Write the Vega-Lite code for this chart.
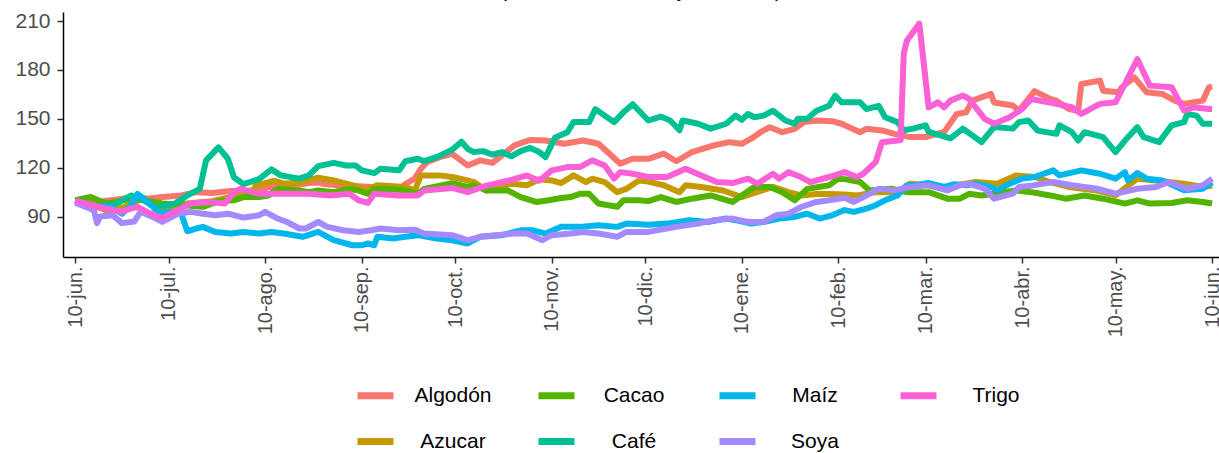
{
  "$schema": "https://vega.github.io/schema/vega-lite/v6.json",
  "autosize": {"type": "none"},
  "padding": {"left": 63, "top": 12, "right": 0, "bottom": 196},
  "width": 1156,
  "height": 245,
  "background": "#ffffff",
  "title": {"text": "(Base 100 = 10 de junio 2021)", "fontSize": 21, "font": "Liberation Sans", "fontWeight": "normal", "color": "#000000", "offset": 9, "anchor": "middle", "frame": "group"},
  "data": {"values": [
{"s":"Algodón","d":"2021-06-10","v":100},{"s":"Algodón","d":"2021-06-17","v":99},{"s":"Algodón","d":"2021-06-28","v":101.6},{"s":"Algodón","d":"2021-07-03","v":101},{"s":"Algodón","d":"2021-07-08","v":102},{"s":"Algodón","d":"2021-07-14","v":103},{"s":"Algodón","d":"2021-07-19","v":105},{"s":"Algodón","d":"2021-07-24","v":104.5},{"s":"Algodón","d":"2021-07-30","v":105.7},{"s":"Algodón","d":"2021-08-08","v":106},{"s":"Algodón","d":"2021-08-11","v":108},{"s":"Algodón","d":"2021-08-19","v":109},{"s":"Algodón","d":"2021-08-24","v":110.6},{"s":"Algodón","d":"2021-08-27","v":111},{"s":"Algodón","d":"2021-08-29","v":110},{"s":"Algodón","d":"2021-09-04","v":109},{"s":"Algodón","d":"2021-09-09","v":108.6},{"s":"Algodón","d":"2021-09-14","v":108},{"s":"Algodón","d":"2021-09-19","v":107},{"s":"Algodón","d":"2021-09-22","v":106.5},{"s":"Algodón","d":"2021-09-24","v":110},{"s":"Algodón","d":"2021-09-27","v":113.3},{"s":"Algodón","d":"2021-09-29","v":119.4},{"s":"Algodón","d":"2021-10-01","v":123.5},{"s":"Algodón","d":"2021-10-05","v":126.5},{"s":"Algodón","d":"2021-10-09","v":128.5},{"s":"Algodón","d":"2021-10-14","v":121.4},{"s":"Algodón","d":"2021-10-18","v":124.5},{"s":"Algodón","d":"2021-10-22","v":123},{"s":"Algodón","d":"2021-10-29","v":133.7},{"s":"Algodón","d":"2021-11-03","v":137},{"s":"Algodón","d":"2021-11-08","v":136.7},{"s":"Algodón","d":"2021-11-14","v":134.7},{"s":"Algodón","d":"2021-11-20","v":136.7},{"s":"Algodón","d":"2021-11-25","v":134.7},{"s":"Algodón","d":"2021-12-02","v":122.5},{"s":"Algodón","d":"2021-12-06","v":125.5},{"s":"Algodón","d":"2021-12-11","v":125.5},{"s":"Algodón","d":"2021-12-16","v":128.6},{"s":"Algodón","d":"2021-12-20","v":124},{"s":"Algodón","d":"2021-12-25","v":129.6},{"s":"Algodón","d":"2022-01-01","v":133.7},{"s":"Algodón","d":"2022-01-06","v":135.7},{"s":"Algodón","d":"2022-01-10","v":134.7},{"s":"Algodón","d":"2022-01-13","v":137.8},{"s":"Algodón","d":"2022-01-16","v":141.8},{"s":"Algodón","d":"2022-01-19","v":144.9},{"s":"Algodón","d":"2022-01-23","v":141.8},{"s":"Algodón","d":"2022-01-27","v":143.9},{"s":"Algodón","d":"2022-01-30","v":148},{"s":"Algodón","d":"2022-02-03","v":149},{"s":"Algodón","d":"2022-02-08","v":148.6},{"s":"Algodón","d":"2022-02-11","v":147},{"s":"Algodón","d":"2022-02-17","v":141.8},{"s":"Algodón","d":"2022-02-19","v":143.9},{"s":"Algodón","d":"2022-02-24","v":142.9},{"s":"Algodón","d":"2022-02-28","v":140.8},{"s":"Algodón","d":"2022-03-05","v":138.8},{"s":"Algodón","d":"2022-03-10","v":138.8},{"s":"Algodón","d":"2022-03-16","v":142},{"s":"Algodón","d":"2022-03-20","v":153},{"s":"Algodón","d":"2022-03-23","v":154},{"s":"Algodón","d":"2022-03-25","v":161.2},{"s":"Algodón","d":"2022-03-28","v":163.3},{"s":"Algodón","d":"2022-03-31","v":165.3},{"s":"Algodón","d":"2022-04-01","v":160},{"s":"Algodón","d":"2022-04-07","v":158.2},{"s":"Algodón","d":"2022-04-09","v":155},{"s":"Algodón","d":"2022-04-14","v":167},{"s":"Algodón","d":"2022-04-19","v":162.3},{"s":"Algodón","d":"2022-04-21","v":161.2},{"s":"Algodón","d":"2022-04-25","v":156},{"s":"Algodón","d":"2022-04-28","v":155},{"s":"Algodón","d":"2022-04-29","v":171.4},{"s":"Algodón","d":"2022-05-05","v":173.5},{"s":"Algodón","d":"2022-05-06","v":167.3},{"s":"Algodón","d":"2022-05-11","v":166.3},{"s":"Algodón","d":"2022-05-12","v":169.4},{"s":"Algodón","d":"2022-05-16","v":175.5},{"s":"Algodón","d":"2022-05-20","v":166.3},{"s":"Algodón","d":"2022-05-25","v":165.3},{"s":"Algodón","d":"2022-05-29","v":161.2},{"s":"Algodón","d":"2022-06-01","v":159.2},{"s":"Algodón","d":"2022-06-07","v":161.2},{"s":"Algodón","d":"2022-06-09","v":169.4},{"s":"Algodón","d":"2022-06-10","v":170},
{"s":"Azucar","d":"2021-06-10","v":100},{"s":"Azucar","d":"2021-06-13","v":100.5},{"s":"Azucar","d":"2021-06-17","v":96},{"s":"Azucar","d":"2021-06-21","v":93},{"s":"Azucar","d":"2021-06-26","v":96},{"s":"Azucar","d":"2021-07-02","v":101.5},{"s":"Azucar","d":"2021-07-07","v":95},{"s":"Azucar","d":"2021-07-16","v":98},{"s":"Azucar","d":"2021-07-24","v":99.5},{"s":"Azucar","d":"2021-07-30","v":102},{"s":"Azucar","d":"2021-08-05","v":103},{"s":"Azucar","d":"2021-08-07","v":109},{"s":"Azucar","d":"2021-08-13","v":112},{"s":"Azucar","d":"2021-08-16","v":110.2},{"s":"Azucar","d":"2021-08-21","v":111},{"s":"Azucar","d":"2021-08-27","v":113.9},{"s":"Azucar","d":"2021-09-01","v":112.2},{"s":"Azucar","d":"2021-09-09","v":108.2},{"s":"Azucar","d":"2021-09-11","v":106},{"s":"Azucar","d":"2021-09-15","v":109.2},{"s":"Azucar","d":"2021-09-24","v":108.2},{"s":"Azucar","d":"2021-09-27","v":106},{"s":"Azucar","d":"2021-09-29","v":115.3},{"s":"Azucar","d":"2021-10-05","v":115.3},{"s":"Azucar","d":"2021-10-09","v":114.3},{"s":"Azucar","d":"2021-10-14","v":112.2},{"s":"Azucar","d":"2021-10-16","v":111.2},{"s":"Azucar","d":"2021-10-20","v":106},{"s":"Azucar","d":"2021-10-28","v":110.2},{"s":"Azucar","d":"2021-11-02","v":109.2},{"s":"Azucar","d":"2021-11-06","v":112.9},{"s":"Azucar","d":"2021-11-10","v":112.2},{"s":"Azucar","d":"2021-11-13","v":110.6},{"s":"Azucar","d":"2021-11-17","v":115.3},{"s":"Azucar","d":"2021-11-21","v":111.2},{"s":"Azucar","d":"2021-11-23","v":113.3},{"s":"Azucar","d":"2021-11-27","v":111.2},{"s":"Azucar","d":"2021-12-01","v":105},{"s":"Azucar","d":"2021-12-04","v":107.1},{"s":"Azucar","d":"2021-12-08","v":112.2},{"s":"Azucar","d":"2021-12-11","v":111.5},{"s":"Azucar","d":"2021-12-16","v":109.2},{"s":"Azucar","d":"2021-12-21","v":105},{"s":"Azucar","d":"2021-12-23","v":109.2},{"s":"Azucar","d":"2021-12-28","v":108.2},{"s":"Azucar","d":"2022-01-04","v":106},{"s":"Azucar","d":"2022-01-10","v":102},{"s":"Azucar","d":"2022-01-13","v":104},{"s":"Azucar","d":"2022-01-20","v":108.2},{"s":"Azucar","d":"2022-01-25","v":105},{"s":"Azucar","d":"2022-01-29","v":103},{"s":"Azucar","d":"2022-02-04","v":104},{"s":"Azucar","d":"2022-02-12","v":103.5},{"s":"Azucar","d":"2022-02-16","v":103},{"s":"Azucar","d":"2022-02-22","v":105},{"s":"Azucar","d":"2022-03-01","v":105},{"s":"Azucar","d":"2022-03-05","v":110.2},{"s":"Azucar","d":"2022-03-11","v":109.2},{"s":"Azucar","d":"2022-03-16","v":107},{"s":"Azucar","d":"2022-03-20","v":109.2},{"s":"Azucar","d":"2022-03-26","v":111.2},{"s":"Azucar","d":"2022-04-02","v":110.2},{"s":"Azucar","d":"2022-04-08","v":115.3},{"s":"Azucar","d":"2022-04-14","v":114.3},{"s":"Azucar","d":"2022-04-19","v":111.2},{"s":"Azucar","d":"2022-04-25","v":108.2},{"s":"Azucar","d":"2022-05-04","v":106},{"s":"Azucar","d":"2022-05-10","v":103},{"s":"Azucar","d":"2022-05-17","v":113.3},{"s":"Azucar","d":"2022-05-23","v":112.2},{"s":"Azucar","d":"2022-06-01","v":110.2},{"s":"Azucar","d":"2022-06-07","v":108.2},{"s":"Azucar","d":"2022-06-10","v":109},
{"s":"Cacao","d":"2021-06-10","v":100},{"s":"Cacao","d":"2021-06-15","v":102},{"s":"Cacao","d":"2021-06-20","v":98},{"s":"Cacao","d":"2021-06-28","v":101},{"s":"Cacao","d":"2021-07-02","v":100},{"s":"Cacao","d":"2021-07-08","v":98},{"s":"Cacao","d":"2021-07-15","v":97},{"s":"Cacao","d":"2021-07-21","v":96},{"s":"Cacao","d":"2021-07-26","v":99.5},{"s":"Cacao","d":"2021-07-31","v":100},{"s":"Cacao","d":"2021-08-03","v":102},{"s":"Cacao","d":"2021-08-08","v":102},{"s":"Cacao","d":"2021-08-11","v":103},{"s":"Cacao","d":"2021-08-14","v":107},{"s":"Cacao","d":"2021-08-21","v":106},{"s":"Cacao","d":"2021-08-24","v":105},{"s":"Cacao","d":"2021-08-27","v":106},{"s":"Cacao","d":"2021-09-01","v":105},{"s":"Cacao","d":"2021-09-06","v":107},{"s":"Cacao","d":"2021-09-09","v":106},{"s":"Cacao","d":"2021-09-12","v":104},{"s":"Cacao","d":"2021-09-14","v":107},{"s":"Cacao","d":"2021-09-20","v":107},{"s":"Cacao","d":"2021-09-24","v":106},{"s":"Cacao","d":"2021-09-28","v":104},{"s":"Cacao","d":"2021-09-30","v":107},{"s":"Cacao","d":"2021-10-09","v":110.5},{"s":"Cacao","d":"2021-10-14","v":108.2},{"s":"Cacao","d":"2021-10-16","v":109.2},{"s":"Cacao","d":"2021-10-20","v":106},{"s":"Cacao","d":"2021-10-27","v":106},{"s":"Cacao","d":"2021-10-31","v":102},{"s":"Cacao","d":"2021-11-05","v":99},{"s":"Cacao","d":"2021-11-09","v":100},{"s":"Cacao","d":"2021-11-13","v":101.4},{"s":"Cacao","d":"2021-11-16","v":102},{"s":"Cacao","d":"2021-11-19","v":104},{"s":"Cacao","d":"2021-11-22","v":104},{"s":"Cacao","d":"2021-11-25","v":98},{"s":"Cacao","d":"2021-12-01","v":96},{"s":"Cacao","d":"2021-12-03","v":100},{"s":"Cacao","d":"2021-12-08","v":100},{"s":"Cacao","d":"2021-12-11","v":99.5},{"s":"Cacao","d":"2021-12-15","v":102},{"s":"Cacao","d":"2021-12-20","v":99},{"s":"Cacao","d":"2021-12-25","v":101},{"s":"Cacao","d":"2021-12-31","v":103},{"s":"Cacao","d":"2022-01-07","v":99},{"s":"Cacao","d":"2022-01-10","v":103},{"s":"Cacao","d":"2022-01-14","v":108.2},{"s":"Cacao","d":"2022-01-19","v":108.2},{"s":"Cacao","d":"2022-01-23","v":105},{"s":"Cacao","d":"2022-01-27","v":100},{"s":"Cacao","d":"2022-01-31","v":107},{"s":"Cacao","d":"2022-02-07","v":109.2},{"s":"Cacao","d":"2022-02-10","v":113.3},{"s":"Cacao","d":"2022-02-12","v":113},{"s":"Cacao","d":"2022-02-17","v":111.2},{"s":"Cacao","d":"2022-02-20","v":106},{"s":"Cacao","d":"2022-02-27","v":107.1},{"s":"Cacao","d":"2022-03-04","v":105},{"s":"Cacao","d":"2022-03-11","v":105},{"s":"Cacao","d":"2022-03-17","v":101},{"s":"Cacao","d":"2022-03-21","v":101},{"s":"Cacao","d":"2022-03-24","v":104},{"s":"Cacao","d":"2022-03-28","v":103},{"s":"Cacao","d":"2022-04-04","v":105},{"s":"Cacao","d":"2022-04-08","v":106},{"s":"Cacao","d":"2022-04-13","v":105},{"s":"Cacao","d":"2022-04-19","v":103},{"s":"Cacao","d":"2022-04-24","v":101},{"s":"Cacao","d":"2022-04-30","v":103},{"s":"Cacao","d":"2022-05-06","v":101},{"s":"Cacao","d":"2022-05-13","v":98},{"s":"Cacao","d":"2022-05-17","v":100},{"s":"Cacao","d":"2022-05-21","v":98},{"s":"Cacao","d":"2022-05-28","v":98.4},{"s":"Cacao","d":"2022-06-02","v":100},{"s":"Cacao","d":"2022-06-07","v":99},{"s":"Cacao","d":"2022-06-10","v":98},
{"s":"Café","d":"2021-06-10","v":100},{"s":"Café","d":"2021-06-17","v":96},{"s":"Café","d":"2021-06-20","v":97},{"s":"Café","d":"2021-06-23","v":97.6},{"s":"Café","d":"2021-06-28","v":103},{"s":"Café","d":"2021-07-02","v":100},{"s":"Café","d":"2021-07-06","v":95},{"s":"Café","d":"2021-07-08","v":96.5},{"s":"Café","d":"2021-07-12","v":98},{"s":"Café","d":"2021-07-16","v":103},{"s":"Café","d":"2021-07-20","v":107},{"s":"Café","d":"2021-07-22","v":124.5},{"s":"Café","d":"2021-07-26","v":132.5},{"s":"Café","d":"2021-07-29","v":125.5},{"s":"Café","d":"2021-07-31","v":114},{"s":"Café","d":"2021-08-03","v":110},{"s":"Café","d":"2021-08-08","v":113},{"s":"Café","d":"2021-08-12","v":119},{"s":"Café","d":"2021-08-15","v":115.3},{"s":"Café","d":"2021-08-21","v":113.3},{"s":"Café","d":"2021-08-24","v":115.3},{"s":"Café","d":"2021-08-27","v":121},{"s":"Café","d":"2021-09-01","v":123},{"s":"Café","d":"2021-09-05","v":121.4},{"s":"Café","d":"2021-09-08","v":121.4},{"s":"Café","d":"2021-09-10","v":118.4},{"s":"Café","d":"2021-09-14","v":116.7},{"s":"Café","d":"2021-09-16","v":119.4},{"s":"Café","d":"2021-09-22","v":118.4},{"s":"Café","d":"2021-09-24","v":124},{"s":"Café","d":"2021-09-28","v":125.5},{"s":"Café","d":"2021-09-30","v":124},{"s":"Café","d":"2021-10-04","v":126.5},{"s":"Café","d":"2021-10-09","v":131},{"s":"Café","d":"2021-10-12","v":136},{"s":"Café","d":"2021-10-14","v":131.6},{"s":"Café","d":"2021-10-16","v":129.6},{"s":"Café","d":"2021-10-19","v":130.2},{"s":"Café","d":"2021-10-22","v":128},{"s":"Café","d":"2021-10-25","v":129.6},{"s":"Café","d":"2021-10-28","v":127},{"s":"Café","d":"2021-10-31","v":130.2},{"s":"Café","d":"2021-11-03","v":132.2},{"s":"Café","d":"2021-11-06","v":129.6},{"s":"Café","d":"2021-11-08","v":126.5},{"s":"Café","d":"2021-11-11","v":138.4},{"s":"Café","d":"2021-11-15","v":141.8},{"s":"Café","d":"2021-11-17","v":148},{"s":"Café","d":"2021-11-22","v":148},{"s":"Café","d":"2021-11-24","v":156},{"s":"Café","d":"2021-11-27","v":152},{"s":"Café","d":"2021-11-30","v":148},{"s":"Café","d":"2021-12-03","v":154},{"s":"Café","d":"2021-12-06","v":159},{"s":"Café","d":"2021-12-09","v":153},{"s":"Café","d":"2021-12-11","v":149},{"s":"Café","d":"2021-12-15","v":151.4},{"s":"Café","d":"2021-12-18","v":149},{"s":"Café","d":"2021-12-21","v":143},{"s":"Café","d":"2021-12-22","v":149},{"s":"Café","d":"2021-12-27","v":147},{"s":"Café","d":"2021-12-31","v":144},{"s":"Café","d":"2022-01-05","v":147},{"s":"Café","d":"2022-01-08","v":152},{"s":"Café","d":"2022-01-10","v":149.4},{"s":"Café","d":"2022-01-12","v":153},{"s":"Café","d":"2022-01-14","v":151},{"s":"Café","d":"2022-01-17","v":152},{"s":"Café","d":"2022-01-20","v":155},{"s":"Café","d":"2022-01-24","v":149},{"s":"Café","d":"2022-01-27","v":147},{"s":"Café","d":"2022-01-28","v":150},{"s":"Café","d":"2022-01-31","v":150},{"s":"Café","d":"2022-02-03","v":155},{"s":"Café","d":"2022-02-07","v":158},{"s":"Café","d":"2022-02-09","v":164.3},{"s":"Café","d":"2022-02-11","v":160.2},{"s":"Café","d":"2022-02-17","v":160.2},{"s":"Café","d":"2022-02-19","v":156},{"s":"Café","d":"2022-02-23","v":158},{"s":"Café","d":"2022-02-25","v":151},{"s":"Café","d":"2022-03-01","v":148},{"s":"Café","d":"2022-03-03","v":143},{"s":"Café","d":"2022-03-06","v":144},{"s":"Café","d":"2022-03-10","v":146},{"s":"Café","d":"2022-03-11","v":142},{"s":"Café","d":"2022-03-18","v":138},{"s":"Café","d":"2022-03-22","v":144},{"s":"Café","d":"2022-03-28","v":135.7},{"s":"Café","d":"2022-04-01","v":145},{"s":"Café","d":"2022-04-07","v":144},{"s":"Café","d":"2022-04-09","v":148},{"s":"Café","d":"2022-04-12","v":149},{"s":"Café","d":"2022-04-15","v":142.8},{"s":"Café","d":"2022-04-21","v":140.8},{"s":"Café","d":"2022-04-22","v":146},{"s":"Café","d":"2022-04-26","v":141.8},{"s":"Café","d":"2022-04-28","v":136.7},{"s":"Café","d":"2022-04-30","v":141.8},{"s":"Café","d":"2022-05-06","v":138.8},{"s":"Café","d":"2022-05-10","v":129.6},{"s":"Café","d":"2022-05-13","v":136.7},{"s":"Café","d":"2022-05-17","v":144.9},{"s":"Café","d":"2022-05-19","v":138.8},{"s":"Café","d":"2022-05-24","v":135.7},{"s":"Café","d":"2022-05-28","v":146},{"s":"Café","d":"2022-06-01","v":148},{"s":"Café","d":"2022-06-02","v":153},{"s":"Café","d":"2022-06-05","v":152},{"s":"Café","d":"2022-06-07","v":147},{"s":"Café","d":"2022-06-10","v":147},
{"s":"Maíz","d":"2021-06-10","v":100},{"s":"Maíz","d":"2021-06-17","v":96},{"s":"Maíz","d":"2021-06-21","v":96},{"s":"Maíz","d":"2021-06-25","v":91.8},{"s":"Maíz","d":"2021-06-28","v":97},{"s":"Maíz","d":"2021-06-30","v":104},{"s":"Maíz","d":"2021-07-04","v":98},{"s":"Maíz","d":"2021-07-07","v":91.8},{"s":"Maíz","d":"2021-07-10","v":93},{"s":"Maíz","d":"2021-07-14","v":92},{"s":"Maíz","d":"2021-07-16","v":81},{"s":"Maíz","d":"2021-07-19","v":82.7},{"s":"Maíz","d":"2021-07-21","v":83.7},{"s":"Maíz","d":"2021-07-25","v":80.6},{"s":"Maíz","d":"2021-07-30","v":79.6},{"s":"Maíz","d":"2021-08-03","v":80.6},{"s":"Maíz","d":"2021-08-08","v":79.6},{"s":"Maíz","d":"2021-08-12","v":80.6},{"s":"Maíz","d":"2021-08-16","v":79.6},{"s":"Maíz","d":"2021-08-22","v":77.6},{"s":"Maíz","d":"2021-08-27","v":80.6},{"s":"Maíz","d":"2021-09-01","v":75.5},{"s":"Maíz","d":"2021-09-07","v":72.4},{"s":"Maíz","d":"2021-09-10","v":72.4},{"s":"Maíz","d":"2021-09-12","v":73.5},{"s":"Maíz","d":"2021-09-14","v":72.4},{"s":"Maíz","d":"2021-09-15","v":77.6},{"s":"Maíz","d":"2021-09-20","v":76.5},{"s":"Maíz","d":"2021-09-24","v":77.6},{"s":"Maíz","d":"2021-09-28","v":78.6},{"s":"Maíz","d":"2021-10-04","v":76.5},{"s":"Maíz","d":"2021-10-09","v":75.5},{"s":"Maíz","d":"2021-10-14","v":73.5},{"s":"Maíz","d":"2021-10-18","v":77.6},{"s":"Maíz","d":"2021-10-25","v":78.6},{"s":"Maíz","d":"2021-10-31","v":81.6},{"s":"Maíz","d":"2021-11-04","v":81.6},{"s":"Maíz","d":"2021-11-08","v":79.6},{"s":"Maíz","d":"2021-11-13","v":83.7},{"s":"Maíz","d":"2021-11-19","v":83.7},{"s":"Maíz","d":"2021-11-25","v":84.7},{"s":"Maíz","d":"2021-12-01","v":83.7},{"s":"Maíz","d":"2021-12-04","v":85.7},{"s":"Maíz","d":"2021-12-11","v":85},{"s":"Maíz","d":"2021-12-17","v":85.7},{"s":"Maíz","d":"2021-12-24","v":87.8},{"s":"Maíz","d":"2021-12-30","v":86.7},{"s":"Maíz","d":"2022-01-05","v":88.8},{"s":"Maíz","d":"2022-01-08","v":87.8},{"s":"Maíz","d":"2022-01-13","v":85.7},{"s":"Maíz","d":"2022-01-17","v":86.7},{"s":"Maíz","d":"2022-01-22","v":88.8},{"s":"Maíz","d":"2022-01-27","v":89.8},{"s":"Maíz","d":"2022-01-31","v":91.8},{"s":"Maíz","d":"2022-02-04","v":88.8},{"s":"Maíz","d":"2022-02-08","v":90.8},{"s":"Maíz","d":"2022-02-12","v":94},{"s":"Maíz","d":"2022-02-15","v":92.9},{"s":"Maíz","d":"2022-02-19","v":94.9},{"s":"Maíz","d":"2022-02-22","v":97},{"s":"Maíz","d":"2022-02-25","v":100},{"s":"Maíz","d":"2022-03-01","v":103},{"s":"Maíz","d":"2022-03-04","v":109.2},{"s":"Maíz","d":"2022-03-07","v":109.2},{"s":"Maíz","d":"2022-03-11","v":110.6},{"s":"Maíz","d":"2022-03-16","v":108.2},{"s":"Maíz","d":"2022-03-19","v":109.8},{"s":"Maíz","d":"2022-03-23","v":109.2},{"s":"Maíz","d":"2022-03-26","v":110.2},{"s":"Maíz","d":"2022-03-31","v":108.2},{"s":"Maíz","d":"2022-04-02","v":106.1},{"s":"Maíz","d":"2022-04-06","v":110.2},{"s":"Maíz","d":"2022-04-10","v":113.3},{"s":"Maíz","d":"2022-04-14","v":114.3},{"s":"Maíz","d":"2022-04-20","v":118.4},{"s":"Maíz","d":"2022-04-22","v":115.3},{"s":"Maíz","d":"2022-04-29","v":118.4},{"s":"Maíz","d":"2022-05-05","v":116.3},{"s":"Maíz","d":"2022-05-10","v":113.3},{"s":"Maíz","d":"2022-05-13","v":117.3},{"s":"Maíz","d":"2022-05-14","v":112.2},{"s":"Maíz","d":"2022-05-17","v":116.7},{"s":"Maíz","d":"2022-05-20","v":113.3},{"s":"Maíz","d":"2022-05-25","v":112.2},{"s":"Maíz","d":"2022-06-01","v":106.1},{"s":"Maíz","d":"2022-06-07","v":107.1},{"s":"Maíz","d":"2022-06-10","v":111},
{"s":"Soya","d":"2021-06-10","v":98.5},{"s":"Soya","d":"2021-06-16","v":94},{"s":"Soya","d":"2021-06-17","v":86},{"s":"Soya","d":"2021-06-18","v":90},{"s":"Soya","d":"2021-06-22","v":90.8},{"s":"Soya","d":"2021-06-25","v":86},{"s":"Soya","d":"2021-06-29","v":87},{"s":"Soya","d":"2021-07-01","v":93},{"s":"Soya","d":"2021-07-06","v":88.8},{"s":"Soya","d":"2021-07-08","v":86.7},{"s":"Soya","d":"2021-07-13","v":91.8},{"s":"Soya","d":"2021-07-17","v":92.9},{"s":"Soya","d":"2021-07-21","v":91.8},{"s":"Soya","d":"2021-07-25","v":90.8},{"s":"Soya","d":"2021-07-29","v":91.8},{"s":"Soya","d":"2021-08-03","v":89.4},{"s":"Soya","d":"2021-08-08","v":90.8},{"s":"Soya","d":"2021-08-10","v":92.9},{"s":"Soya","d":"2021-08-14","v":88.8},{"s":"Soya","d":"2021-08-17","v":86.7},{"s":"Soya","d":"2021-08-21","v":82.7},{"s":"Soya","d":"2021-08-23","v":82.7},{"s":"Soya","d":"2021-08-27","v":86.7},{"s":"Soya","d":"2021-08-30","v":83.7},{"s":"Soya","d":"2021-09-04","v":81.6},{"s":"Soya","d":"2021-09-09","v":80.6},{"s":"Soya","d":"2021-09-13","v":81.6},{"s":"Soya","d":"2021-09-16","v":82.7},{"s":"Soya","d":"2021-09-22","v":81.6},{"s":"Soya","d":"2021-09-27","v":82},{"s":"Soya","d":"2021-09-30","v":79.6},{"s":"Soya","d":"2021-10-09","v":78.6},{"s":"Soya","d":"2021-10-14","v":75.5},{"s":"Soya","d":"2021-10-18","v":77.6},{"s":"Soya","d":"2021-10-23","v":78.6},{"s":"Soya","d":"2021-10-29","v":79.6},{"s":"Soya","d":"2021-11-02","v":79.6},{"s":"Soya","d":"2021-11-07","v":75.5},{"s":"Soya","d":"2021-11-10","v":78.6},{"s":"Soya","d":"2021-11-16","v":79.6},{"s":"Soya","d":"2021-11-20","v":80.6},{"s":"Soya","d":"2021-11-25","v":79.6},{"s":"Soya","d":"2021-12-01","v":77.6},{"s":"Soya","d":"2021-12-04","v":80.6},{"s":"Soya","d":"2021-12-11","v":80.6},{"s":"Soya","d":"2021-12-20","v":83.7},{"s":"Soya","d":"2021-12-27","v":85.7},{"s":"Soya","d":"2022-01-01","v":87.8},{"s":"Soya","d":"2022-01-07","v":88.8},{"s":"Soya","d":"2022-01-12","v":86.7},{"s":"Soya","d":"2022-01-17","v":86.7},{"s":"Soya","d":"2022-01-21","v":90.8},{"s":"Soya","d":"2022-01-25","v":91.8},{"s":"Soya","d":"2022-01-29","v":95.9},{"s":"Soya","d":"2022-02-03","v":99},{"s":"Soya","d":"2022-02-07","v":100},{"s":"Soya","d":"2022-02-12","v":101.5},{"s":"Soya","d":"2022-02-15","v":99},{"s":"Soya","d":"2022-02-18","v":102},{"s":"Soya","d":"2022-02-23","v":107.1},{"s":"Soya","d":"2022-02-28","v":106.1},{"s":"Soya","d":"2022-03-05","v":108.2},{"s":"Soya","d":"2022-03-11","v":109.2},{"s":"Soya","d":"2022-03-17","v":106.1},{"s":"Soya","d":"2022-03-21","v":109.2},{"s":"Soya","d":"2022-03-24","v":110.2},{"s":"Soya","d":"2022-03-29","v":107.1},{"s":"Soya","d":"2022-04-01","v":101},{"s":"Soya","d":"2022-04-07","v":104.1},{"s":"Soya","d":"2022-04-09","v":108.2},{"s":"Soya","d":"2022-04-13","v":109},{"s":"Soya","d":"2022-04-20","v":111.2},{"s":"Soya","d":"2022-04-26","v":109.2},{"s":"Soya","d":"2022-05-04","v":107.1},{"s":"Soya","d":"2022-05-10","v":104.1},{"s":"Soya","d":"2022-05-17","v":107.1},{"s":"Soya","d":"2022-05-23","v":108.2},{"s":"Soya","d":"2022-05-27","v":111.2},{"s":"Soya","d":"2022-06-02","v":107.1},{"s":"Soya","d":"2022-06-07","v":109.2},{"s":"Soya","d":"2022-06-10","v":113.3},
{"s":"Trigo","d":"2021-06-10","v":100},{"s":"Trigo","d":"2021-06-15","v":97},{"s":"Trigo","d":"2021-06-20","v":95},{"s":"Trigo","d":"2021-06-25","v":93},{"s":"Trigo","d":"2021-06-28","v":95},{"s":"Trigo","d":"2021-06-30","v":96},{"s":"Trigo","d":"2021-07-04","v":92},{"s":"Trigo","d":"2021-07-08","v":89},{"s":"Trigo","d":"2021-07-12","v":93},{"s":"Trigo","d":"2021-07-17","v":98},{"s":"Trigo","d":"2021-07-23","v":99},{"s":"Trigo","d":"2021-07-28","v":98},{"s":"Trigo","d":"2021-07-31","v":105},{"s":"Trigo","d":"2021-08-02","v":107},{"s":"Trigo","d":"2021-08-08","v":104},{"s":"Trigo","d":"2021-08-24","v":104},{"s":"Trigo","d":"2021-08-31","v":103},{"s":"Trigo","d":"2021-09-06","v":104},{"s":"Trigo","d":"2021-09-09","v":100},{"s":"Trigo","d":"2021-09-12","v":98.4},{"s":"Trigo","d":"2021-09-14","v":104},{"s":"Trigo","d":"2021-09-22","v":103},{"s":"Trigo","d":"2021-09-28","v":103},{"s":"Trigo","d":"2021-09-30","v":106},{"s":"Trigo","d":"2021-10-09","v":107.6},{"s":"Trigo","d":"2021-10-14","v":105},{"s":"Trigo","d":"2021-10-20","v":109},{"s":"Trigo","d":"2021-10-27","v":112},{"s":"Trigo","d":"2021-11-02","v":115.3},{"s":"Trigo","d":"2021-11-06","v":112},{"s":"Trigo","d":"2021-11-10","v":118.4},{"s":"Trigo","d":"2021-11-15","v":120.4},{"s":"Trigo","d":"2021-11-19","v":120.4},{"s":"Trigo","d":"2021-11-23","v":124.5},{"s":"Trigo","d":"2021-11-27","v":121.4},{"s":"Trigo","d":"2021-11-30","v":113.3},{"s":"Trigo","d":"2021-12-02","v":117.3},{"s":"Trigo","d":"2021-12-06","v":116.3},{"s":"Trigo","d":"2021-12-11","v":114.3},{"s":"Trigo","d":"2021-12-17","v":114.3},{"s":"Trigo","d":"2021-12-23","v":119.4},{"s":"Trigo","d":"2021-12-28","v":115.3},{"s":"Trigo","d":"2022-01-02","v":111.2},{"s":"Trigo","d":"2022-01-07","v":110.6},{"s":"Trigo","d":"2022-01-12","v":113.3},{"s":"Trigo","d":"2022-01-15","v":110.2},{"s":"Trigo","d":"2022-01-20","v":116.3},{"s":"Trigo","d":"2022-01-22","v":113.3},{"s":"Trigo","d":"2022-01-25","v":117.3},{"s":"Trigo","d":"2022-01-29","v":114.3},{"s":"Trigo","d":"2022-02-01","v":111.2},{"s":"Trigo","d":"2022-02-07","v":114.3},{"s":"Trigo","d":"2022-02-12","v":117.3},{"s":"Trigo","d":"2022-02-16","v":114.3},{"s":"Trigo","d":"2022-02-18","v":116.3},{"s":"Trigo","d":"2022-02-22","v":123.5},{"s":"Trigo","d":"2022-02-24","v":135.7},{"s":"Trigo","d":"2022-03-01","v":136.7},{"s":"Trigo","d":"2022-03-02","v":137},{"s":"Trigo","d":"2022-03-03","v":190},{"s":"Trigo","d":"2022-03-04","v":198},{"s":"Trigo","d":"2022-03-08","v":208.5},{"s":"Trigo","d":"2022-03-11","v":157.1},{"s":"Trigo","d":"2022-03-14","v":160.2},{"s":"Trigo","d":"2022-03-16","v":157.1},{"s":"Trigo","d":"2022-03-18","v":161.2},{"s":"Trigo","d":"2022-03-22","v":164.3},{"s":"Trigo","d":"2022-03-24","v":162.2},{"s":"Trigo","d":"2022-03-29","v":150},{"s":"Trigo","d":"2022-04-01","v":147},{"s":"Trigo","d":"2022-04-06","v":151},{"s":"Trigo","d":"2022-04-10","v":156.1},{"s":"Trigo","d":"2022-04-13","v":162.2},{"s":"Trigo","d":"2022-04-21","v":159.2},{"s":"Trigo","d":"2022-04-26","v":157.1},{"s":"Trigo","d":"2022-04-29","v":153},{"s":"Trigo","d":"2022-05-05","v":159.2},{"s":"Trigo","d":"2022-05-10","v":160.2},{"s":"Trigo","d":"2022-05-13","v":171.4},{"s":"Trigo","d":"2022-05-17","v":186.7},{"s":"Trigo","d":"2022-05-21","v":170.4},{"s":"Trigo","d":"2022-05-28","v":169.4},{"s":"Trigo","d":"2022-06-01","v":155.1},{"s":"Trigo","d":"2022-06-04","v":157.1},{"s":"Trigo","d":"2022-06-09","v":156.1},{"s":"Trigo","d":"2022-06-10","v":156}
  ]},
  "mark": {"type": "line", "strokeWidth": 6, "strokeJoin": "round", "strokeCap": "butt"},
  "encoding": {
    "x": {
      "field": "d", "type": "temporal",
      "scale": {"type": "utc", "domain": [{"year": 2021, "month": 6, "date": 6, "hours": 2, "utc": true}, {"year": 2022, "month": 6, "date": 12, "hours": 5, "utc": true}]},
      "axis": {
        "title": null,
        "values": [
          {"year": 2021, "month": 6, "date": 10, "utc": true}, {"year": 2021, "month": 7, "date": 10, "utc": true}, {"year": 2021, "month": 8, "date": 10, "utc": true}, {"year": 2021, "month": 9, "date": 10, "utc": true}, {"year": 2021, "month": 10, "date": 10, "utc": true}, {"year": 2021, "month": 11, "date": 10, "utc": true}, {"year": 2021, "month": 12, "date": 10, "utc": true}, {"year": 2022, "month": 1, "date": 10, "utc": true}, {"year": 2022, "month": 2, "date": 10, "utc": true}, {"year": 2022, "month": 3, "date": 10, "utc": true}, {"year": 2022, "month": 4, "date": 10, "utc": true}, {"year": 2022, "month": 5, "date": 10, "utc": true}, {"year": 2022, "month": 6, "date": 10, "utc": true}
        ],
        "labelExpr": "'10-' + ['ene.','feb.','mar.','abr.','may.','jun.','jul.','ago.','sep.','oct.','nov.','dic.'][utcmonth(datum.value)]",
        "labelAngle": -90,
        "labelPadding": 3,
        "labelFontSize": 20,
        "labelOverlap": false,
        "labelBound": false,
        "labelFlush": false
      }
    },
    "y": {
      "field": "v", "type": "quantitative",
      "scale": {"domain": [65.2, 215.6], "nice": false, "zero": false},
      "axis": {"title": null, "values": [90, 120, 150, 180, 210], "labelPadding": 7, "labelFontSize": 21}
    },
    "color": {
      "field": "s", "type": "nominal",
      "scale": {
        "domain": ["Algodón", "Cacao", "Maíz", "Trigo", "Azucar", "Café", "Soya"],
        "range": ["#F8766D", "#53B400", "#00B6EB", "#FB61D7", "#C49A00", "#00C094", "#A58AFF"]
      },
      "legend": {
        "orient": "none", "legendX": 291, "legendY": 362, "direction": "horizontal", "columns": 4, "title": null,
        "symbolType": "stroke", "symbolStrokeWidth": 7, "symbolSize": 1296,
        "labelFontSize": 21, "labelColor": "#000000", "labelFont": "Liberation Sans",
        "labelAlign": "center", "labelOffset": 56, "columnPadding": 32, "rowPadding": 10, "gridAlign": "all", "labelLimit": 0
      }
    }
  },
  "config": {
    "view": {"stroke": null},
    "font": "Liberation Sans",
    "axis": {"domainColor": "#000000", "domainWidth": 1.5, "tickColor": "#333333", "tickWidth": 1.5, "tickSize": 6, "labelColor": "#4D4D4D", "labelFont": "Liberation Sans", "grid": false}
  }
}
